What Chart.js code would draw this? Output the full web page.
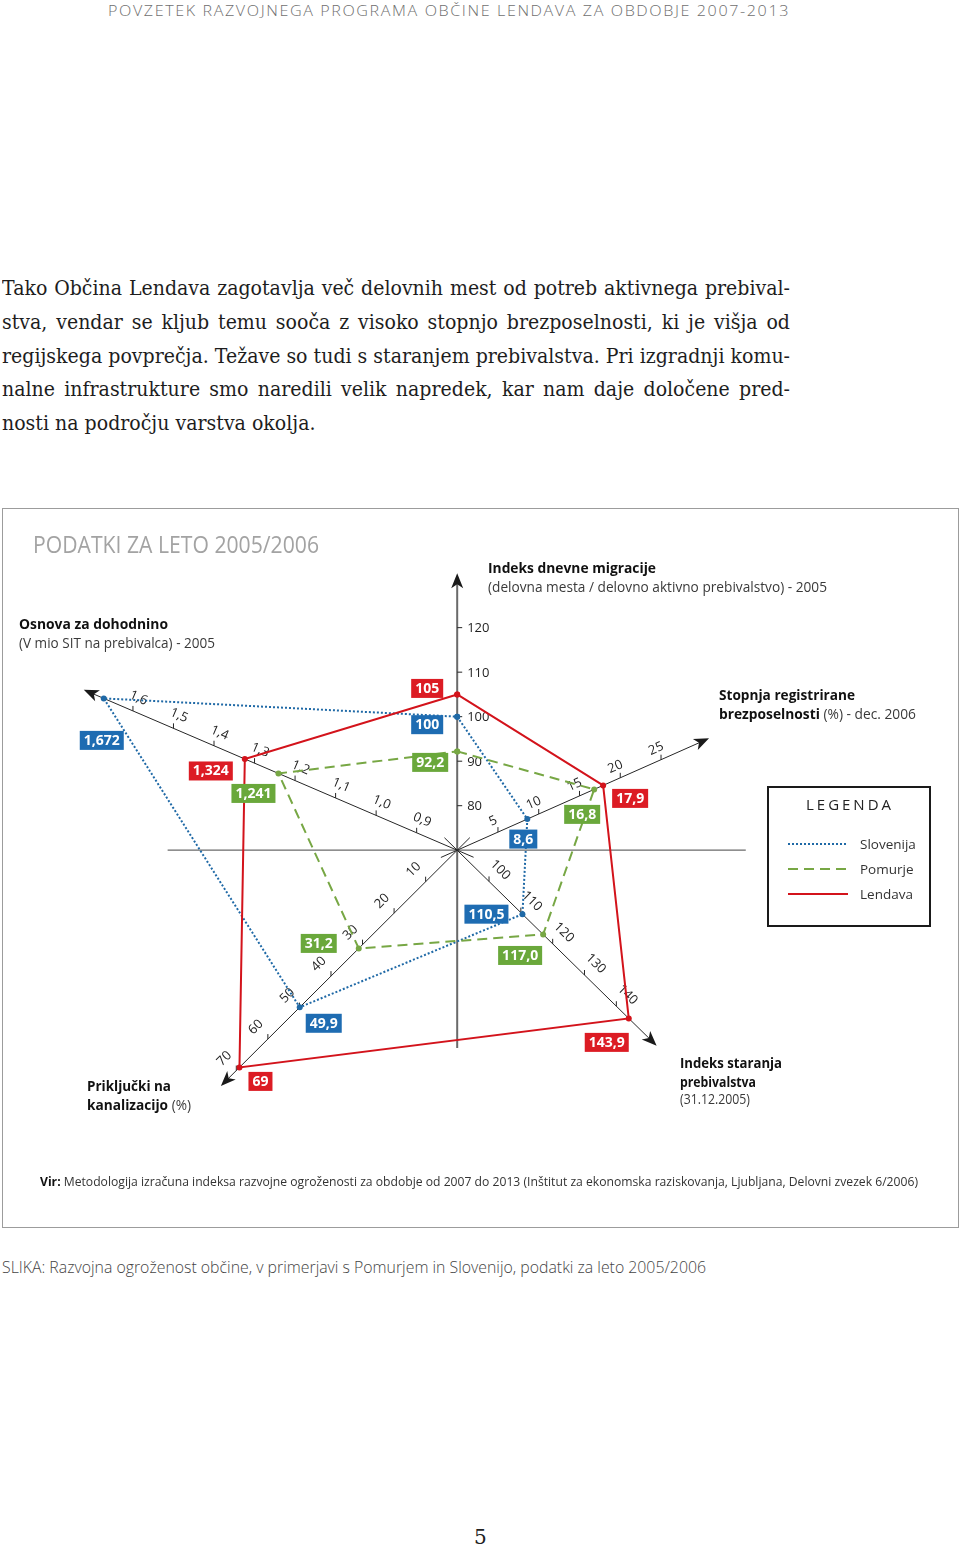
<!DOCTYPE html>
<html>
<head>
<meta charset="utf-8">
<script src="https://cdn.jsdelivr.net/npm/chart.js@4/dist/chart.umd.min.js"></script>
<style>
  html, body { margin: 0; padding: 0; background: #fff; }
  body { width: 960px; height: 1547px; position: relative; overflow: hidden; font-family: "Open Sans", sans-serif; color: #222; }
  .t { position: absolute; white-space: nowrap; line-height: 1.2; transform-origin: 0 50%; z-index: 2; }
  .b { font-weight: 700; color: #111; }
  .r { font-weight: 400; color: #3a3a3a; }
  #para { position: absolute; left: 2px; top: 272px; font-family: "DejaVu Serif", serif; font-size: 19.5px; line-height: 33.8px; color: #1d1d1d; transform-origin: 0 0; width: 2000px; }
  #para div { white-space: nowrap; }
  #box { position: absolute; left: 2px; top: 508px; width: 957px; height: 720px; box-sizing: border-box; border: 1px solid #9c9c9c; }
  #radar { position: absolute; left: 0; top: 500px; z-index: 1; }
</style>
</head>
<body>

<div class="t" data-w="682" style="left:108px;top:1px;font-size:15px;font-weight:300;letter-spacing:1.5px;color:#6f6f6f;">POVZETEK RAZVOJNEGA PROGRAMA OBČINE LENDAVA ZA OBDOBJE 2007-2013</div>

<div id="para">
  <div class="j"><span>Tako Občina Lendava zagotavlja več delovnih mest od potreb aktivnega prebival-</span></div>
  <div class="j"><span>stva, vendar se kljub temu sooča z visoko stopnjo brezposelnosti, ki je višja od</span></div>
  <div class="j"><span>regijskega povprečja. Težave so tudi s staranjem prebivalstva. Pri izgradnji komu-</span></div>
  <div class="j"><span>nalne infrastrukture smo naredili velik napredek, kar nam daje določene pred-</span></div>
  <div><span>nosti na področju varstva okolja.</span></div>
</div>

<div id="box"></div>
<canvas id="radar" width="960" height="740"></canvas>

<div class="t" data-w="286" style="left:33px;top:531px;font-size:23px;color:#a3a3a3;">PODATKI ZA LETO 2005/2006</div>

<div class="t b" data-w="168" style="left:488px;top:558px;font-size:15px;">Indeks dnevne migracije</div>
<div class="t r" data-w="339" style="left:488px;top:579px;font-size:14px;">(delovna mesta / delovno aktivno prebivalstvo) - 2005</div>

<div class="t b" data-w="149" style="left:19px;top:614px;font-size:15px;">Osnova za dohodnino</div>
<div class="t r" data-w="196" style="left:19px;top:635px;font-size:14px;">(V mio SIT na prebivalca) - 2005</div>

<div class="t b" data-w="136" style="left:719px;top:685px;font-size:15px;">Stopnja registrirane</div>
<div class="t" data-w="197" style="left:719px;top:704px;font-size:15px;"><span class="b">brezposelnosti</span><span class="r"> (%) - dec. 2006</span></div>

<div class="t b" data-w="102" style="left:680px;top:1053px;font-size:15px;">Indeks staranja</div>
<div class="t b" data-w="76" style="left:680px;top:1072px;font-size:15px;">prebivalstva</div>
<div class="t r" data-w="70" style="left:680px;top:1091px;font-size:14px;">(31.12.2005)</div>

<div class="t b" data-w="84" style="left:87px;top:1076px;font-size:15px;">Priključki na</div>
<div class="t" data-w="104" style="left:87px;top:1095px;font-size:15px;"><span class="b">kanalizacijo</span><span class="r"> (%)</span></div>

<div class="t" data-w="878" style="left:40px;top:1174px;font-size:13px;color:#333;"><b style="color:#111">Vir:</b> Metodologija izračuna indeksa razvojne ogroženosti za obdobje od 2007 do 2013 (Inštitut za ekonomska raziskovanja, Ljubljana, Delovni zvezek 6/2006)</div>

<div class="t" data-w="704" style="left:2px;top:1257px;font-size:17px;font-weight:300;color:#444;">SLIKA: Razvojna ogroženost občine, v primerjavi s Pomurjem in Slovenijo, podatki za leto 2005/2006</div>

<div class="t" style="left:474px;top:1525px;font-size:20px;font-family:'DejaVu Serif',serif;color:#222;">5</div>

<script>
// --- data -------------------------------------------------------------
const categories = [
  'Indeks dnevne migracije',
  'Stopnja registrirane brezposelnosti',
  'Indeks staranja prebivalstva',
  'Priključki na kanalizacijo',
  'Osnova za dohodnino',
];
const slovenija = [100, 8.6, 110.5, 49.9, 1.672];
const pomurje = [92.2, 16.8, 117.0, 31.2, 1.241];
const lendava = [105, 17.9, 143.9, 69, 1.324];

const slovenijaLabels = ['100', '8,6', '110,5', '49,9', '1,672'];
const pomurjeLabels = ['92,2', '16,8', '117,0', '31,2', '1,241'];
const lendavaLabels = ['105', '17,9', '143,9', '69', '1,324'];

const ticksMigracija = [80, 90, 100, 110, 120];
const ticksBrezposelnost = [5, 10, 15, 20, 25];
const ticksStaranje = [100, 110, 120, 130, 140];
const ticksKanalizacija = [10, 20, 30, 40, 50, 60, 70];
const ticksDohodnina = [0.9, 1.0, 1.1, 1.2, 1.3, 1.4, 1.5, 1.6];

// --- layout -----------------------------------------------------------
const W = 960, H = 740, CX = 457, CY = 350; // canvas size, centre of the star

// angle in degrees, value at centre, pixels per unit, arrow length
const axes = [
  { ticks: ticksMigracija, angle: 90, zero: 70, px: 4.5, len: 280, back: 200, lab: 0, dec: 0 },
  { ticks: ticksBrezposelnost, angle: 24, zero: 0, px: 9, len: 278, back: 18, lab: 12, dec: 0 },
  { ticks: ticksStaranje, angle: -44.5, zero: 90, px: 4.5, len: 282, back: 18, lab: 16, dec: 0 },
  { ticks: ticksKanalizacija, angle: -135, zero: 0, px: 4.5, len: 337, back: 18, lab: 17, dec: 0 },
  { ticks: ticksDohodnina, angle: 156.7, zero: 0.8, px: 445, len: 410, back: 18, lab: 14, dec: 1 },
];

const BLUE = '#1f69a6', BLUE_BOX = '#1e6cb2';
const GREEN = '#77a744', GREEN_BOX = '#6aa83b';
const RED = '#d3131b', RED_BOX = '#dc1c24';

// where each value box sits relative to its point (px)
const offsSlovenija = [[-30, 8], [-4, 20], [-36, 0], [24, 16], [-2, 42]];
const offsPomurje = [[-27, 11], [-12, 25], [-23, 21], [-40, -5], [-25, 20]];
const offsLendava = [[-30, -6], [27, 13], [-22, 24], [21, 14], [-34, 12]];

function toXY(i, v) {
  const a = axes[i].angle * Math.PI / 180;
  const r = (v - axes[i].zero) * axes[i].px;
  return { x: r * Math.cos(a), y: r * Math.sin(a) };
}

function polygon(values) {
  const pts = values.map((v, i) => toXY(i, v));
  pts.push(pts[0]);
  return pts;
}

function arrow(ctx, tx, ty, dx, dy) {
  const L = 15, Wd = 6, N = 4;
  const px = -dy, py = dx;
  ctx.beginPath();
  ctx.moveTo(tx, ty);
  ctx.lineTo(tx - dx * L + px * Wd, ty - dy * L + py * Wd);
  ctx.lineTo(tx - dx * (L - N), ty - dy * (L - N));
  ctx.lineTo(tx - dx * L - px * Wd, ty - dy * L - py * Wd);
  ctx.closePath();
  ctx.fill();
}

const axesPlugin = {
  id: 'starAxes',
  beforeDatasetsDraw(chart) {
    const { ctx } = chart;
    const sx = chart.scales.x, sy = chart.scales.y;
    const P = (x, y) => [sx.getPixelForValue(x), sy.getPixelForValue(y)];
    ctx.save();

    // horizontal guide line
    ctx.strokeStyle = '#6a6a6a';
    ctx.lineWidth = 1.3;
    let [x0, y0] = P(-292, 0);
    let [x1, y1] = P(291, 0);
    ctx.beginPath(); ctx.moveTo(x0, y0); ctx.lineTo(x1, y1); ctx.stroke();

    axes.forEach((ax, i) => {
      const a = ax.angle * Math.PI / 180;
      const ux = Math.cos(a), uy = Math.sin(a);
      const dx = ux, dy = -uy; // screen direction
      const [bx, by] = P(-ax.back * ux, -ax.back * uy);
      const [tx, ty] = P(ax.len * ux, ax.len * uy);

      ctx.strokeStyle = i === 0 ? '#6a6a6a' : '#262626';
      ctx.fillStyle = '#1a1a1a';
      ctx.lineWidth = i === 0 ? 2 : 1;
      ctx.beginPath(); ctx.moveTo(bx, by); ctx.lineTo(tx - dx * 8, ty - dy * 8); ctx.stroke();
      arrow(ctx, tx, ty, dx, dy);

      // normal on the label side (upwards on screen)
      const nx = ux > 0 ? -uy : uy;
      const ny = ux > 0 ? -ux : ux;
      const rot = ux > 0 ? Math.atan2(-uy, ux) : Math.atan2(uy, -ux);

      ctx.font = '13px "Open Sans"';
      ctx.fillStyle = '#1e1e1e';
      ctx.lineWidth = 1;
      ctx.strokeStyle = '#262626';
      ax.ticks.forEach(t => {
        const p = toXY(i, t);
        const [px, py] = P(p.x, p.y);
        const txt = ax.dec ? t.toFixed(ax.dec).replace('.', ',') : String(t);
        ctx.beginPath();
        if (i === 0) {
          ctx.moveTo(px, py); ctx.lineTo(px + 5, py);
        } else {
          ctx.moveTo(px, py); ctx.lineTo(px, py - 5);
        }
        ctx.stroke();
        if (i === 0) {
          ctx.textAlign = 'left';
          ctx.textBaseline = 'middle';
          ctx.fillText(txt, px + 10, py + 1);
        } else {
          ctx.save();
          ctx.translate(px + nx * ax.lab, py + ny * ax.lab);
          ctx.rotate(rot);
          ctx.textAlign = 'center';
          ctx.textBaseline = 'middle';
          ctx.fillText(txt, 0, 0);
          ctx.restore();
        }
      });
    });
    ctx.restore();
  },
};

const valueBoxPlugin = {
  id: 'valueBoxes',
  afterDatasetsDraw(chart) {
    const { ctx } = chart;
    ctx.save();
    ctx.font = 'bold 14px "Open Sans"';
    ctx.textAlign = 'center';
    ctx.textBaseline = 'middle';
    chart.data.datasets.forEach((ds, di) => {
      const meta = chart.getDatasetMeta(di);
      ds.valueLabels.forEach((txt, j) => {
        const el = meta.data[j];
        const [ox, oy] = ds.labelOffsets[j];
        const cx = el.x + ox, cy = el.y + oy;
        const w = ctx.measureText(txt).width + 8;
        ctx.fillStyle = ds.boxColor;
        ctx.fillRect(cx - w / 2, cy - 9.5, w, 19);
        ctx.fillStyle = '#fff';
        ctx.fillText(txt, cx, cy + 0.5);
      });
    });
    ctx.restore();
  },
};

const legendPlugin = {
  id: 'boxLegend',
  afterDraw(chart) {
    const { ctx } = chart;
    const left = 768, top = 287, w = 162, h = 139;
    ctx.save();
    ctx.lineWidth = 2;
    ctx.strokeStyle = '#1a1a1a';
    ctx.strokeRect(left, top, w, h);
    ctx.fillStyle = '#222';
    ctx.font = '15px "Open Sans"';
    ctx.letterSpacing = '3px';
    ctx.textAlign = 'center';
    ctx.textBaseline = 'middle';
    ctx.fillText('LEGENDA', left + w / 2 + 1, top + 19);
    ctx.letterSpacing = '0px';
    ctx.font = '13.5px "Open Sans"';
    ctx.textAlign = 'left';
    ['Slovenija', 'Pomurje', 'Lendava'].forEach((name, k) => {
      const ds = chart.data.datasets.find(d => d.label === name);
      const y = top + 57 + k * 25;
      ctx.strokeStyle = ds.borderColor;
      ctx.lineWidth = 2;
      ctx.setLineDash(ds.borderDash || []);
      ctx.beginPath(); ctx.moveTo(left + 20, y); ctx.lineTo(left + 80, y); ctx.stroke();
      ctx.setLineDash([]);
      ctx.fillStyle = '#333';
      ctx.fillText(name, left + 92, y + 1);
    });
    ctx.restore();
  },
};

function makeDataset(label, values, labels, offsets, color, boxColor, dash, order) {
  return {
    label,
    data: polygon(values),
    valueLabels: labels,
    labelOffsets: offsets,
    boxColor,
    showLine: true,
    fill: false,
    tension: 0,
    borderColor: color,
    borderWidth: 2,
    borderDash: dash,
    pointRadius: 3,
    pointBorderWidth: 0,
    pointBackgroundColor: color,
    order,
  };
}

function drawChart() {
  new Chart(document.getElementById('radar').getContext('2d'), {
    type: 'scatter',
    data: {
      labels: categories,
      datasets: [
        makeDataset('Slovenija', slovenija, slovenijaLabels, offsSlovenija, BLUE, BLUE_BOX, [2, 2], 3),
        makeDataset('Pomurje', pomurje, pomurjeLabels, offsPomurje, GREEN, GREEN_BOX, [10, 6], 2),
        makeDataset('Lendava', lendava, lendavaLabels, offsLendava, RED, RED_BOX, [], 1),
      ],
    },
    options: {
      responsive: false,
      animation: false,
      devicePixelRatio: 1,
      events: [],
      layout: { padding: 0 },
      scales: {
        x: { type: 'linear', min: -CX, max: W - CX, display: false },
        y: { type: 'linear', min: CY - H, max: CY, display: false },
      },
      plugins: {
        legend: { display: false },
        tooltip: { enabled: false },
      },
    },
    plugins: [axesPlugin, valueBoxPlugin, legendPlugin],
  });
}

// squeeze text to the widths of the original layout
function fitTexts() {
  document.querySelectorAll('[data-w]').forEach(el => {
    el.style.transform = 'none';
    const w = el.getBoundingClientRect().width;
    if (w > 0) el.style.transform = 'scaleX(' + (el.dataset.w / w) + ')';
  });

  const para = document.getElementById('para');
  const spans = [...para.querySelectorAll('span')];
  let maxW = 0;
  spans.forEach((s, k) => { if (k < spans.length - 1) maxW = Math.max(maxW, s.getBoundingClientRect().width); });
  const scale = 788 / maxW;
  const target = 788 / scale;
  para.querySelectorAll('div.j').forEach(d => {
    const s = d.querySelector('span');
    const gaps = (s.textContent.match(/ /g) || []).length;
    const extra = (target - s.getBoundingClientRect().width) / gaps;
    s.style.wordSpacing = extra + 'px';
  });
  para.style.transform = 'scaleX(' + scale + ')';
}

document.fonts.ready.then(() => {
  fitTexts();
  drawChart();
});
</script>
</body>
</html>
